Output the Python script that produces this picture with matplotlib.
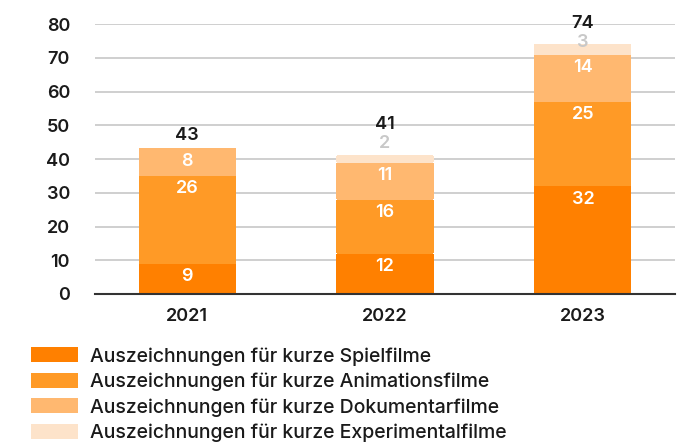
import numpy as np
import matplotlib
matplotlib.use('Agg')
import matplotlib.pyplot as plt

plt.rcParams['font.family'] = ['Inter', 'DejaVu Sans']

years = ['2021', '2022', '2023']
spiel = [9, 12, 32]
animation = [26, 16, 25]
doku = [8, 11, 14]
experimental = [0, 2, 3]
totals = [43, 41, 74]
series_names = ['Auszeichnungen für kurze Spielfilme',
                'Auszeichnungen für kurze Animationsfilme',
                'Auszeichnungen für kurze Dokumentarfilme',
                'Auszeichnungen für kurze Experimentalfilme']
colors = ['#FF8000', '#FF9A26', '#FFB870', '#FDE3CA']

fig = plt.figure(figsize=(6.81, 4.44), dpi=100)
ax = fig.add_axes([95/681, 150/444, 580/681, 270/444])

x = np.arange(len(years))
w = 0.485
bottom = np.zeros(len(years))
series = [spiel, animation, doku, experimental]
for vals, c, name in zip(series, colors, series_names):
    v = np.array(vals, dtype=float)
    ax.bar(x, v, w, bottom=bottom, color=c, label=name, zorder=2,
           antialiased=False, snap=False)
    for i in range(len(x)):
        if v[i] <= 0:
            continue
        top = bottom[i] + v[i]
        if c == colors[3]:
            # tiny segment -> grey label just above it
            off = 12 if v[i] < 3 else 2
            ax.annotate(str(int(v[i])), (x[i], top), xytext=(0, off),
                        textcoords='offset pixels', ha='center', va='center',
                        color='#C8C8C8', fontsize=13, fontweight='semibold',
                        annotation_clip=False)
        else:
            ax.annotate(str(int(v[i])), (x[i], top), xytext=(0, -13),
                        textcoords='offset pixels', ha='center', va='center',
                        color='white', fontsize=13, fontweight='semibold')
    bottom += v

# totals on top
for i in range(len(x)):
    if experimental[i] > 0:
        off = (12 if experimental[i] < 3 else 2) + 19
    else:
        off = 13
    ax.annotate(str(totals[i]), (x[i], bottom[i]), xytext=(0, off),
                textcoords='offset pixels', ha='center', va='center',
                color='#1a1a1a', fontsize=13, fontweight='semibold',
                annotation_clip=False)

ax.set_xlim(-0.465, 2.465)
ax.set_ylim(0, 80)
ax.set_yticks(np.arange(0, 81, 10))
ax.set_xticks(x)
ax.set_xticklabels(years)
ax.grid(axis='y', color='#CCCCCC', linewidth=1.3, zorder=0)
ax.set_axisbelow(True)
for s in ['top', 'right', 'left']:
    ax.spines[s].set_visible(False)
ax.spines['bottom'].set_color('#333333')
ax.spines['bottom'].set_linewidth(1.5)
ax.spines['bottom'].set_zorder(3)
ax.tick_params(axis='y', length=0, pad=18, labelsize=13, labelcolor='#1a1a1a')
ax.tick_params(axis='x', length=0, pad=10, labelsize=13, labelcolor='#1a1a1a')
for lab in ax.get_xticklabels() + ax.get_yticklabels():
    lab.set_fontweight('semibold')

leg = fig.legend(loc='upper left', bbox_to_anchor=(31/681, 1 - 347/444),
                 frameon=False, fontsize=14, handlelength=2.4,
                 handleheight=0.8, handletextpad=0.65, labelspacing=0.36,
                 borderaxespad=0, borderpad=0)
for t in leg.get_texts():
    t.set_color('#1a1a1a')
    t.set_fontweight('medium')

fig.savefig('out.png', dpi=100)
